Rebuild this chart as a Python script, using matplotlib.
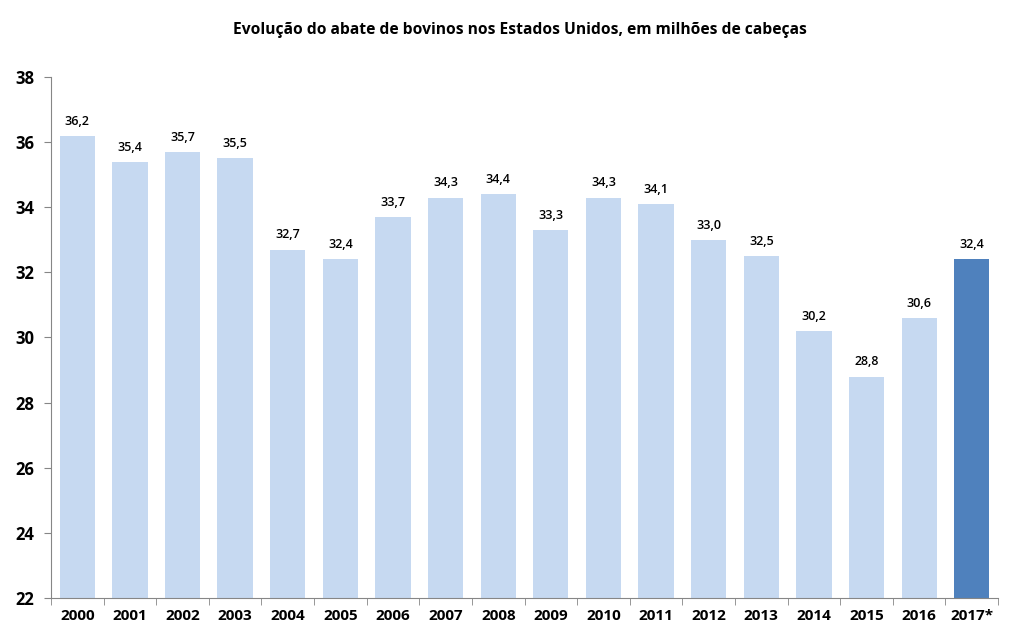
import numpy as np
import matplotlib.pyplot as plt

plt.rcParams['font.family'] = ['Open Sans', 'DejaVu Sans']

years = ['2000', '2001', '2002', '2003', '2004', '2005', '2006', '2007', '2008',
         '2009', '2010', '2011', '2012', '2013', '2014', '2015', '2016', '2017*']
abate = [36.2, 35.4, 35.7, 35.5, 32.7, 32.4, 33.7, 34.3, 34.4,
         33.3, 34.3, 34.1, 33.0, 32.5, 30.2, 28.8, 30.6, 32.4]

light = '#C6D9F1'
dark = '#4F81BD'
colors = [light] * (len(years) - 1) + [dark]

fig = plt.figure(figsize=(10.13, 6.32), dpi=100)
ax = fig.add_axes([0.0503, 0.054, 0.935, 0.824])

x = np.arange(len(years))
ax.bar(x, abate, width=0.67, color=colors, zorder=2)

for xi, v in zip(x, abate):
    ax.text(xi, v + 0.25, f'{v:.1f}'.replace('.', ','), ha='center', va='bottom',
            fontsize=9, fontweight='semibold')

ax.set_ylim(22, 38)
ax.set_xlim(-0.5, len(years) - 0.5)
ax.set_yticks(range(22, 39, 2))
ax.set_xticks(x)
ax.set_xticklabels(years)
ax.set_xticks(np.arange(-0.5, len(years)), minor=True)
ax.tick_params(axis='x', which='major', length=0, pad=8, labelsize=11)
ax.tick_params(axis='x', which='minor', length=5, color='#868686')
ax.tick_params(axis='y', length=5, color='#868686', pad=7, labelsize=12)
for lab in ax.get_xticklabels() + ax.get_yticklabels():
    lab.set_fontweight('bold')

for s in ['top', 'right']:
    ax.spines[s].set_visible(False)
for s in ['left', 'bottom']:
    ax.spines[s].set_color('#868686')

fig.suptitle('Evolução do abate de bovinos nos Estados Unidos, em milhões de cabeças',
             x=0.513, y=0.965, fontsize=11.25, fontweight='bold')

fig.savefig('out.png', dpi=100)
